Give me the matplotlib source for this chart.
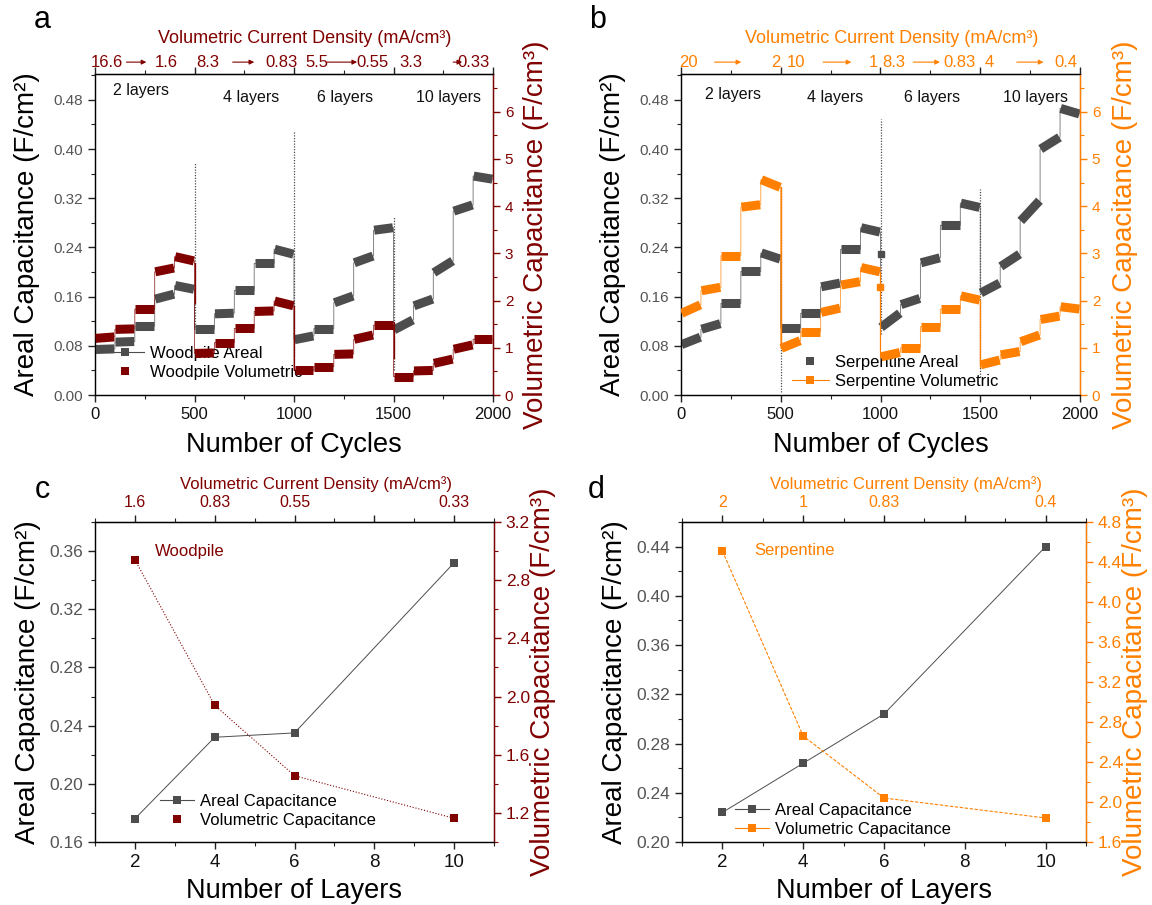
import numpy as np
import matplotlib
matplotlib.use("Agg")
import matplotlib.pyplot as plt
from matplotlib.ticker import MultipleLocator, FixedLocator, NullFormatter
from matplotlib.lines import Line2D
from matplotlib.collections import LineCollection
import matplotlib.transforms as mtrans

plt.rcParams['font.family'] = ['Liberation Sans', 'DejaVu Sans']

GRAY = '#4d4d4d'
DRED = '#800000'
ORANGE = '#ff8000'
TICKGRAY = '#555555'

# ---------------- cycling data (100-cycle steps, 5 current densities per device) ----
step_edges = np.arange(0, 2001, 100)

wp_areal_start = [0.074, 0.086, 0.112, 0.156, 0.178,
                  0.107, 0.132, 0.170, 0.214, 0.237,
                  0.090, 0.108, 0.150, 0.215, 0.268,
                  0.106, 0.145, 0.199, 0.299, 0.356]
wp_areal_end = [0.075, 0.087, 0.112, 0.164, 0.172,
                0.107, 0.133, 0.170, 0.214, 0.229,
                0.096, 0.108, 0.161, 0.226, 0.272,
                0.122, 0.156, 0.218, 0.309, 0.351]
wp_vol_start = [1.20, 1.39, 1.82, 2.61, 2.93,
                0.88, 1.11, 1.41, 1.77, 1.99,
                0.52, 0.60, 0.86, 1.18, 1.48,
                0.39, 0.51, 0.67, 0.97, 1.18]
wp_vol_end = [1.23, 1.40, 1.82, 2.69, 2.84,
              0.89, 1.11, 1.41, 1.78, 1.89,
              0.52, 0.60, 0.87, 1.27, 1.48,
              0.39, 0.52, 0.76, 1.06, 1.18]

sp_areal_start = [0.082, 0.107, 0.149, 0.201, 0.231,
                  0.109, 0.133, 0.176, 0.237, 0.272,
                  0.110, 0.147, 0.215, 0.276, 0.312,
                  0.166, 0.209, 0.283, 0.400, 0.466]
sp_areal_end = [0.094, 0.116, 0.149, 0.201, 0.221,
                0.109, 0.133, 0.182, 0.237, 0.265,
                0.133, 0.157, 0.223, 0.276, 0.305,
                0.182, 0.229, 0.316, 0.419, 0.457]
sp_vol_start = [1.73, 2.21, 2.95, 3.98, 4.56,
                0.99, 1.34, 1.75, 2.33, 2.70,
                0.81, 1.00, 1.45, 1.82, 2.10,
                0.64, 0.85, 1.13, 1.60, 1.87]
sp_vol_end = [1.91, 2.28, 2.95, 4.03, 4.40,
              1.15, 1.34, 1.84, 2.40, 2.61,
              0.90, 1.00, 1.45, 1.82, 2.01,
              0.74, 0.92, 1.27, 1.67, 1.82]

# transient spikes at the start of each new device
wp_spike_x = [500, 1000, 1500]
wp_spike_top = [0.378, 0.430, 0.291]
wp_spike_bottom = [0.110, 0.063, 0.040]
wp_vol_spike_top = [2.79, 1.89, 1.55]
wp_vol_spike_bottom = [1.94, 0.52, 0.78]

sp_spike_x = [500, 1000, 1500]
sp_spike_top = [0.340, 0.449, 0.335]
sp_spike_bottom = [0.005, 0.100, 0.030]
sp_vol_spike_top = [4.40, 2.61, 2.01]
sp_vol_spike_bottom = [1.00, 0.81, 0.60]
sp_outlier_x = [1000]
sp_outlier_areal = [0.229]
sp_outlier_vol = [2.28]

# current density annotations on top axis: (label, cycle position)
wp_density_labels = ['16.6', '1.6', '8.3', '0.83', '5.5', '0.55', '3.3', '0.33']
wp_density_pos = [58, 358, 567, 937, 1117, 1395, 1587, 1903]
wp_arrows = [(158, 258), (692, 800), (1167, 1317), (1800, 1845)]
sp_density_labels = ['20', '2', '10', '1', '8.3', '0.83', '4', '0.4']
sp_density_pos = [38, 477, 575, 963, 1064, 1394, 1544, 1930]
sp_arrows = [(168, 302), (712, 854), (1164, 1298), (1683, 1817)]

layer_names = ['2 layers', '4 layers', '6 layers', '10 layers']
wp_layer_pos = [233, 783, 1258, 1778]
sp_layer_pos = [263, 774, 1260, 1779]

# ---------------- summary data vs. number of layers ----------------
layers = [2, 4, 6, 10]
wp_areal_layers = [0.176, 0.232, 0.235, 0.352]
wp_vol_layers = [2.94, 1.94, 1.456, 1.163]
wp_density_top = ['1.6', '0.83', '0.55', '', '0.33']
sp_areal_layers = [0.224, 0.264, 0.304, 0.440]
sp_vol_layers = [4.51, 2.66, 2.04, 1.84]
sp_density_top = ['2', '1', '0.83', '', '0.4']

W, H = 1152, 905
fig = plt.figure(figsize=(W / 100, H / 100), dpi=100)

LABEL_SIZE = 20
XLABEL_SIZE = 19.5


def box(l, t, r, b):
    return [l / W, 1 - b / H, (r - l) / W, (b - t) / H]


def style_axes(ax, axr, rcolor, lsize, bsize):
    for s in ['left', 'bottom', 'top']:
        ax.spines[s].set_color('#222222')
        ax.spines[s].set_linewidth(1.0)
    axr.spines['right'].set_color(rcolor)
    axr.spines['right'].set_linewidth(1.0)
    ax.tick_params(axis='y', which='both', direction='out', colors='#222222',
                   labelcolor=TICKGRAY, labelsize=lsize)
    ax.tick_params(axis='x', which='both', direction='out', colors='#222222',
                   labelcolor='#111111', labelsize=bsize)
    ax.tick_params(which='major', length=5, width=1.0)
    ax.tick_params(which='minor', length=3, width=0.8)
    axr.tick_params(axis='y', which='both', direction='out', colors=rcolor,
                    labelcolor=rcolor, labelsize=lsize)
    axr.tick_params(which='major', length=5, width=1.0)
    axr.tick_params(which='minor', length=3, width=0.8)


def draw_steps(ax, starts, ends, color):
    xs, ys, segs = [], [], []
    for i in range(len(starts)):
        x0, x1 = step_edges[i], step_edges[i + 1]
        xs += [x0, x1]
        ys += [starts[i], ends[i]]
        segs.append([(x0 + 3, starts[i]), (x1 - 3, ends[i])])
    ax.plot(xs, ys, color=color, lw=0.6, alpha=0.8, zorder=2)
    ax.add_collection(LineCollection(segs, colors=color, linewidths=6.5,
                                     capstyle='butt', zorder=3))


def cycling_panel(rect, areal_s, areal_e, vol_s, vol_e, rcolor,
                  spx, sp_top, sp_bot, vsp_top, vsp_bot,
                  dens_labels, dens_pos, arrows, layer_pos, layer_y,
                  legend_labels, legend_loc, areal_line, vol_line,
                  llabel_x, rlabel_x):
    ax = fig.add_axes(rect)
    axr = ax.twinx()
    ax.set_xlim(0, 2000)
    ax.set_ylim(0, 0.522)
    axr.set_ylim(0, 6.8)
    ax.xaxis.set_major_locator(MultipleLocator(500))
    ax.xaxis.set_minor_locator(MultipleLocator(250))
    ax.yaxis.set_major_locator(MultipleLocator(0.08))
    ax.yaxis.set_minor_locator(MultipleLocator(0.04))
    ax.yaxis.set_major_formatter(matplotlib.ticker.FormatStrFormatter('%.2f'))
    axr.yaxis.set_major_locator(MultipleLocator(1))
    axr.yaxis.set_minor_locator(MultipleLocator(0.5))
    style_axes(ax, axr, rcolor, 11, 12)

    top = ax.secondary_xaxis('top')
    top.xaxis.set_major_locator(MultipleLocator(500))
    top.xaxis.set_minor_locator(MultipleLocator(250))
    top.xaxis.set_major_formatter(NullFormatter())
    top.tick_params(which='major', length=5, width=1.0, direction='out', colors='#222222')
    top.tick_params(which='minor', length=3, width=0.8, direction='out', colors='#222222')

    for x, t, b in zip(spx, sp_top, sp_bot):
        ax.plot([x, x], [b, t], color=GRAY, lw=0.9, ls=(0, (1, 1.2)), zorder=2)
    for x, t, b in zip(spx, vsp_top, vsp_bot):
        axr.plot([x, x], [b, t], color=rcolor, lw=0.9, zorder=2)

    draw_steps(ax, areal_s, areal_e, GRAY)
    draw_steps(axr, vol_s, vol_e, rcolor)

    blend = mtrans.blended_transform_factory(ax.transData, ax.transAxes)
    for lab, x in zip(dens_labels, dens_pos):
        ax.text(x, 1.037, lab, transform=blend, ha='center', va='center',
                color=rcolor, fontsize=12, clip_on=False)
    for x0, x1 in arrows:
        ax.annotate('', xy=(x1, 1.037), xytext=(x0, 1.037), xycoords=blend,
                    textcoords=blend,
                    arrowprops=dict(arrowstyle='-|>', color=rcolor, lw=0.8,
                                    mutation_scale=7, shrinkA=0, shrinkB=0))
    ax.text(0.527, 1.112, 'Volumetric Current Density (mA/cm³)', transform=ax.transAxes,
            ha='center', va='center', color=rcolor, fontsize=13)

    for name, x, y in zip(layer_names, layer_pos, layer_y):
        ax.text(x, y, name, ha='center', va='center', fontsize=11.5, color='#111111')

    ax.set_xlabel('Number of Cycles', fontsize=XLABEL_SIZE)
    ax.xaxis.set_label_coords(0.5, -0.114)
    ax.set_ylabel('Areal Capacitance (F/cm²)', fontsize=LABEL_SIZE)
    ax.yaxis.set_label_coords(llabel_x, 0.5)
    axr.set_ylabel('Volumetric Capacitance (F/cm³)', fontsize=LABEL_SIZE, color=rcolor)
    axr.yaxis.set_label_coords(rlabel_x, 0.5)

    h1 = Line2D([], [], color=GRAY, marker='s', ms=5.5, lw=0.8 if areal_line else 0,
                markeredgewidth=0)
    h2 = Line2D([], [], color=rcolor, marker='s', ms=5.5, lw=0.8 if vol_line else 0,
                markeredgewidth=0)
    ax.legend([h1, h2], legend_labels, loc='center left', bbox_to_anchor=legend_loc,
              frameon=False, fontsize=12, handlelength=2.2, handletextpad=0.4,
              labelspacing=0.2, borderpad=0, borderaxespad=0)
    return ax, axr


ax_a, _ = cycling_panel(box(95, 74, 493, 395), wp_areal_start, wp_areal_end,
                        wp_vol_start, wp_vol_end, DRED,
                        wp_spike_x, wp_spike_top, wp_spike_bottom,
                        wp_vol_spike_top, wp_vol_spike_bottom,
                        wp_density_labels, wp_density_pos, wp_arrows,
                        wp_layer_pos, [0.495, 0.483, 0.483, 0.483],
                        ['Woodpile Areal', 'Woodpile Volumetric'], (0.03, 0.10),
                        True, False, -0.138, 1.075)

ax_b, ax_br = cycling_panel(box(681, 74, 1080, 395), sp_areal_start, sp_areal_end,
                            sp_vol_start, sp_vol_end, ORANGE,
                            sp_spike_x, sp_spike_top, sp_spike_bottom,
                            sp_vol_spike_top, sp_vol_spike_bottom,
                            sp_density_labels, sp_density_pos, sp_arrows,
                            sp_layer_pos, [0.488, 0.483, 0.483, 0.483],
                            ['Serpentine Areal', 'Serpentine Volumetric'], (0.278, 0.072),
                            False, True, -0.138, 1.08)
ax_b.plot(sp_outlier_x, sp_outlier_areal, 's', color=GRAY, ms=5, zorder=4)
ax_br.plot(sp_outlier_x, sp_outlier_vol, 's', color=ORANGE, ms=5, zorder=4)


def layer_panel(rect, areal, vol, rcolor, ylim, rlim, rmajor, top_labels,
                name, name_xy, legend_loc, vol_line, vol_ls, llabel_x, rlabel_x):
    ax = fig.add_axes(rect)
    axr = ax.twinx()
    ax.set_xlim(1, 11)
    ax.set_ylim(*ylim)
    axr.set_ylim(*rlim)
    ax.xaxis.set_major_locator(FixedLocator([2, 4, 6, 8, 10]))
    ax.xaxis.set_minor_locator(FixedLocator([1, 3, 5, 7, 9, 11]))
    ax.yaxis.set_major_locator(MultipleLocator(0.04))
    ax.yaxis.set_minor_locator(MultipleLocator(0.02))
    ax.yaxis.set_major_formatter(matplotlib.ticker.FormatStrFormatter('%.2f'))
    axr.yaxis.set_major_locator(MultipleLocator(rmajor))
    axr.yaxis.set_minor_locator(MultipleLocator(rmajor / 2))
    axr.yaxis.set_major_formatter(matplotlib.ticker.FormatStrFormatter('%.1f'))
    style_axes(ax, axr, rcolor, 12.5, 13.5)

    top = ax.secondary_xaxis('top')
    top.xaxis.set_major_locator(FixedLocator([2, 4, 6, 8, 10]))
    top.xaxis.set_minor_locator(FixedLocator([1, 3, 5, 7, 9, 11]))
    top.set_xticklabels(top_labels)
    top.tick_params(which='major', length=5, width=1.0, direction='out', colors='#222222',
                    labelcolor=rcolor, labelsize=11.5)
    top.tick_params(which='minor', length=3, width=0.8, direction='out', colors='#222222')
    ax.text(0.555, 1.119, 'Volumetric Current Density (mA/cm³)', transform=ax.transAxes,
            ha='center', va='center', color=rcolor, fontsize=12)

    ax.plot(layers, areal, color=GRAY, lw=0.7, marker='s', ms=5.5,
            markeredgewidth=0, zorder=3)
    axr.plot(layers, vol, color=rcolor, lw=0.8, ls=vol_ls, marker='s', ms=5.5,
             markeredgewidth=0, zorder=3)
    ax.text(name_xy[0], name_xy[1], name, color=rcolor, fontsize=12,
            ha='left', va='center')

    ax.set_xlabel('Number of Layers', fontsize=XLABEL_SIZE)
    ax.xaxis.set_label_coords(0.5, -0.112)
    ax.set_ylabel('Areal Capacitance (F/cm²)', fontsize=LABEL_SIZE)
    ax.yaxis.set_label_coords(llabel_x, 0.5)
    axr.set_ylabel('Volumetric Capacitance (F/cm³)', fontsize=LABEL_SIZE, color=rcolor)
    axr.yaxis.set_label_coords(rlabel_x, 0.5)

    h1 = Line2D([], [], color=GRAY, marker='s', ms=5.5, lw=0.8, markeredgewidth=0)
    h2 = Line2D([], [], color=rcolor, marker='s', ms=5.5, lw=0.8 if vol_line else 0,
                markeredgewidth=0)
    ax.legend([h1, h2], ['Areal Capacitance', 'Volumetric Capacitance'],
              loc='center left', bbox_to_anchor=legend_loc, frameon=False,
              fontsize=12, handlelength=2.0, handletextpad=0.4,
              labelspacing=0.2, borderpad=0, borderaxespad=0)
    return ax


layer_panel(box(95, 522, 494, 842), wp_areal_layers, wp_vol_layers, DRED,
            (0.16, 0.38), (1.0, 3.2), 0.4, wp_density_top,
            'Woodpile', (2.5, 0.36), (0.164, 0.097), False, ':', -0.135, 1.09)
layer_panel(box(682, 522, 1086, 842), sp_areal_layers, sp_vol_layers, ORANGE,
            (0.20, 0.46), (1.6, 4.8), 0.4, sp_density_top,
            'Serpentine', (2.8, 0.437), (0.132, 0.069), True, (0, (3, 1.5)),
            -0.134, 1.088)

for lab, x, y in [('a', 42, 20), ('b', 598, 20), ('c', 42, 490), ('d', 596, 490)]:
    fig.text(x / W, 1 - y / H, lab, fontsize=22, ha='center', va='center')

fig.savefig('out.png', dpi=100)
